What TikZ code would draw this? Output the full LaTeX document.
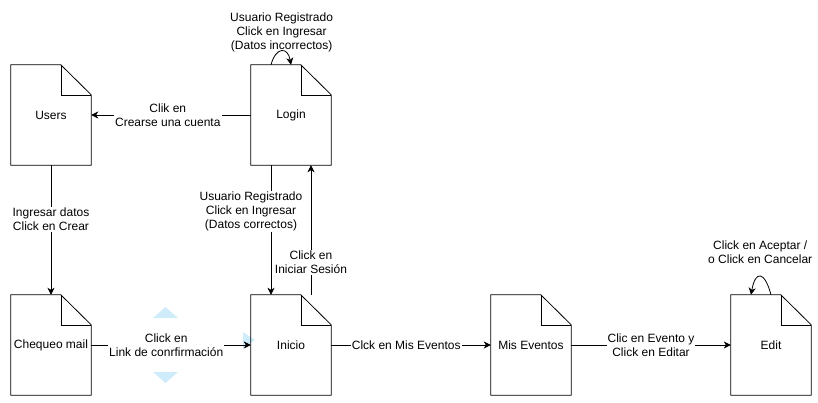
\documentclass[tikz,border=0pt]{standalone}
\usepackage{fontspec}
\setmainfont{Liberation Sans}
\usetikzlibrary{arrows.meta}
\definecolor{hoverblue}{RGB}{207,236,250}
\tikzset{
  doc/.style={minimum width=80pt, minimum height=100pt, inner sep=0pt},
  lbl/.style={fill=white, align=center, inner sep=1pt},
  flow/.style={-{Stealth[length=7pt,width=7pt,inset=2pt]}, line width=0.8pt},
}
\begin{document}
\begin{tikzpicture}[x=1pt, y=-1pt, font=\fontsize{12}{14}\selectfont]
\useasboundingbox (0,0) rectangle (818,402);
% hover marks
\fill[hoverblue] (153,318) -- (165.5,307) -- (178,318) -- cycle;
\fill[hoverblue] (153,372) -- (165.5,383) -- (178,372) -- cycle;
\fill[hoverblue] (243,332) -- (255,340) -- (243,348) -- cycle;
% pages
\node[doc] (users) at (51,115) {Users};
\node[doc] (login) at (291,115) {Login};
\node[doc] (mail) at (51,345) {Chequeo mail};
\node[doc] (inicio) at (291,345) {Inicio};
\node[doc] (eventos) at (531,345) {Mis Eventos};
\node[doc] (edit) at (771,345) {Edit};
\foreach \n in {users,login,mail,inicio,eventos,edit}{
  \draw[line width=0.8pt] (\n.north west) -- ++(50,0) -- ([yshift=-30pt]\n.north east)
    -- (\n.south east) -- (\n.south west) -- cycle;
  \draw[line width=0.5pt] ([xshift=50pt]\n.north west) -- ++(0,30) -- ([yshift=-30pt]\n.north east);
}
% transitions
\draw[flow] (login) -- (users) node[lbl, pos=.52] {Clik en\\Crearse una cuenta};
\draw[flow] ([xshift=-20pt]login.north) to[out=75, in=100, looseness=2.4]
  node[align=center, inner sep=1pt, anchor=south, yshift=-2pt] {Usuario Registrado\\Click en Ingresar\\(Datos incorrectos)} (login.north);
\draw[flow] (users) -- (mail) node[lbl, pos=.42] {Ingresar datos\\Click en Crear};
\draw[flow] ([xshift=20pt]inicio.north) -- ([xshift=20pt]login.south)
  node[lbl, pos=.25] {Click en\\Iniciar Sesión};
\draw[flow] ([xshift=-20pt]login.south) -- ([xshift=-20pt]inicio.north)
  node[lbl, pos=.36, xshift=-20pt] {Usuario Registrado\\Click en Ingresar\\(Datos correctos)};
\draw[flow] (mail) -- (inicio) node[lbl, pos=.47] {Click en\\Link de conrfirmación};
\draw[flow] (inicio) -- (eventos) node[lbl, pos=.47] {Clck en Mis Eventos};
\draw[flow] (eventos) -- (edit) node[lbl, pos=.5] {Clic en Evento y\\Click en Editar};
\draw[flow] (edit.north) to[out=105, in=80, looseness=3.2]
  node[lbl, anchor=south, yshift=12pt] {Click en Aceptar /\\o Click en Cancelar} ([xshift=-20pt]edit.north);
\end{tikzpicture}
\end{document}
